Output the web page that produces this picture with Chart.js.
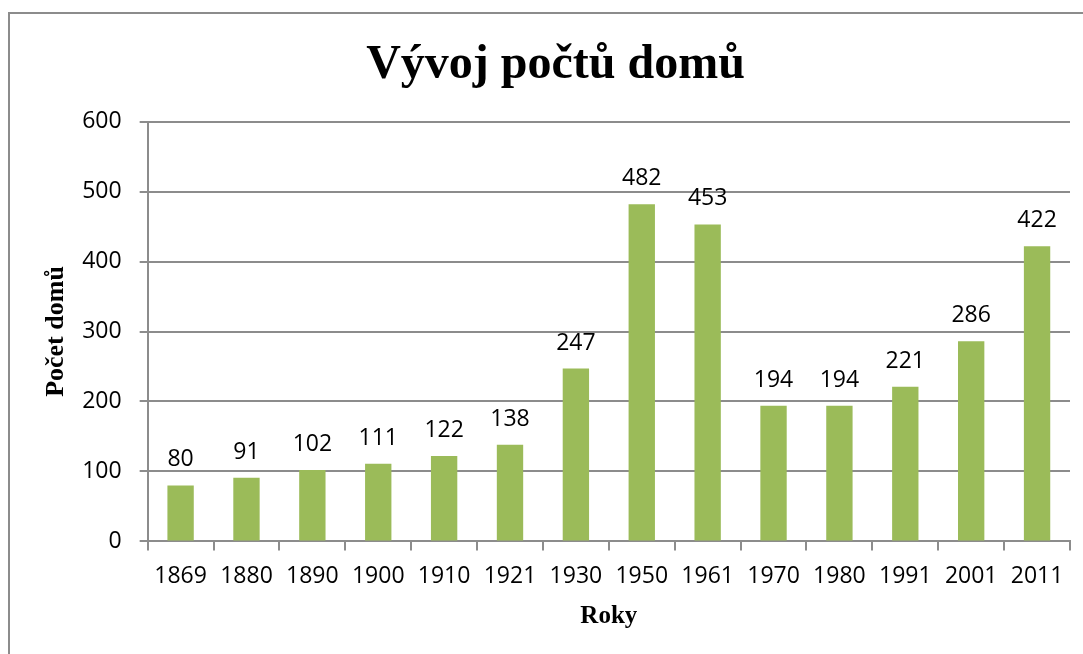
<!DOCTYPE html>
<html>
<head>
<meta charset="utf-8">
<script src="https://cdn.jsdelivr.net/npm/chart.js@4.4.1/dist/chart.umd.min.js"></script>
<style>
html,body{margin:0;padding:0;background:#fff;}
#wrap{position:relative;width:1083px;height:654px;}
</style>
</head>
<body>
<div id="wrap"><canvas id="c" width="1083" height="654"></canvas></div>
<script>
const years = ["1869","1880","1890","1900","1910","1921","1930","1950","1961","1970","1980","1991","2001","2011"];
const houses = [80,91,102,111,122,138,247,482,453,194,194,221,286,422];
const titleText = "Vývoj počtů domů";
const yTitle = "Počet domů";
const xTitle = "Roky";

const tickFont = {family: "'Open Sans', 'DejaVu Sans', sans-serif", size: 23};
const serifBold = {family: "'Liberation Serif', 'Times New Roman', serif", weight: 'bold'};

const borderPlugin = {
  id: 'outerBorder',
  beforeDraw(chart) {
    const ctx = chart.ctx;
    ctx.save();
    ctx.fillStyle = '#ffffff';
    ctx.fillRect(0, 0, chart.width, chart.height);
    ctx.strokeStyle = '#8c8c8c';
    ctx.lineWidth = 2;
    ctx.strokeRect(9, 13, chart.width + 20, chart.height + 20);
    ctx.restore();
  }
};

const labelPlugin = {
  id: 'valueLabels',
  afterDatasetsDraw(chart) {
    const ctx = chart.ctx;
    const meta = chart.getDatasetMeta(0);
    const data = chart.data.datasets[0].data;
    ctx.save();
    ctx.font = tickFont.size + "px " + tickFont.family;
    ctx.fillStyle = '#000';
    ctx.textAlign = 'center';
    ctx.textBaseline = 'alphabetic';
    meta.data.forEach((bar, i) => {
      ctx.fillText(String(data[i]), bar.x, bar.y - 19);
    });
    ctx.restore();
  }
};

new Chart(document.getElementById('c'), {
  type: 'bar',
  data: {
    labels: years,
    datasets: [{
      data: houses,
      backgroundColor: '#9bbb59',
      borderWidth: 0,
      barPercentage: 0.4,
      categoryPercentage: 1.0
    }]
  },
  options: {
    responsive: false,
    animation: false,
    devicePixelRatio: 1,
    layout: {padding: {left: 41, right: 13, top: 1, bottom: 22}},
    plugins: {
      legend: {display: false},
      tooltip: {enabled: false},
      title: {
        display: true,
        text: titleText,
        color: '#000',
        font: Object.assign({size: 48}, serifBold),
        padding: {top: 36, bottom: 27}
      }
    },
    scales: {
      x: {
        grid: {
          display: true,
          offset: true,
          drawOnChartArea: false,
          drawTicks: true,
          tickLength: 9,
          color: '#8c8c8c',
          lineWidth: 2
        },
        border: {display: true, color: '#8c8c8c', width: 2},
        ticks: {color: '#000', font: tickFont, padding: 12, maxRotation: 0, autoSkip: false},
        title: {
          display: true,
          text: xTitle,
          color: '#000',
          font: Object.assign({size: 25}, serifBold),
          padding: {top: 0, bottom: 0}
        }
      },
      y: {
        min: 0,
        max: 600,
        ticks: {stepSize: 100, color: '#000', font: tickFont, padding: 18},
        grid: {
          color: '#8c8c8c',
          lineWidth: 2,
          tickLength: 8,
          drawTicks: true
        },
        border: {display: true, color: '#8c8c8c', width: 2},
        title: {
          display: true,
          text: yTitle,
          color: '#000',
          font: Object.assign({size: 26}, serifBold),
          padding: {top: 0, bottom: -8}
        }
      }
    }
  },
  plugins: [borderPlugin, labelPlugin]
});
</script>
</body>
</html>
